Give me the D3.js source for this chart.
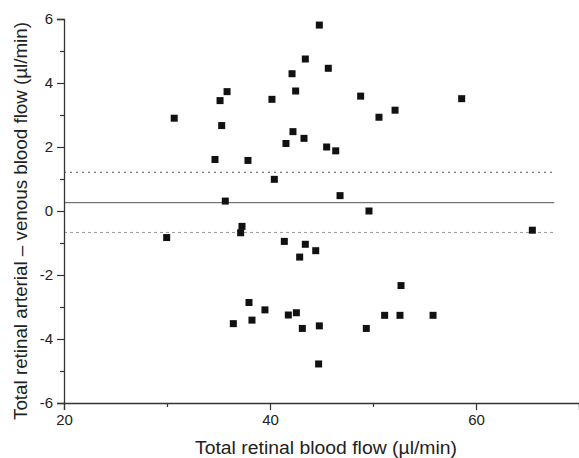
<!DOCTYPE html>
<html><head><meta charset="utf-8">
<script src="https://cdn.jsdelivr.net/npm/d3@7"></script>
<style>body{margin:0;background:#fff}svg{display:block}text{font-family:"Liberation Sans",Arial,sans-serif;fill:#222}</style>
</head><body><svg id="c" width="579" height="458"></svg>
<script>
const flowX = [30.7,29.97,44.79,43.43,45.66,42.14,35.83,35.15,42.49,40.19,48.80,50.58,35.31,42.23,43.30,41.55,45.50,46.38,34.66,37.86,40.42,46.80,35.66,49.61,37.28,58.61,52.14,65.47,37.15,41.39,43.43,44.44,42.88,37.96,39.51,36.44,38.25,41.78,42.56,43.14,44.79,49.35,44.72,52.72,51.13,52.62,55.83];
const diffY = [2.9,-0.83,5.81,4.75,4.46,4.29,3.73,3.45,3.75,3.49,3.59,2.93,2.67,2.48,2.27,2.11,2.0,1.88,1.61,1.58,0.99,0.48,0.31,0.0,-0.48,3.51,3.15,-0.6,-0.68,-0.95,-1.04,-1.24,-1.44,-2.86,-3.09,-3.52,-3.41,-3.25,-3.18,-3.67,-3.59,-3.67,-4.78,-2.33,-3.26,-3.26,-3.26];
const meanDiff = 0.26, upperLimit = 1.21, lowerLimit = -0.67, lineEnd = 67.6;
const xTicks = [20,40,60], yTicks = [-6,-4,-2,0,2,4,6];
const xTitle = "Total retinal blood flow (µl/min)";
const yTitle = "Total retinal arterial – venous blood flow (µl/min)";

const svg = d3.select("#c");
const x = d3.scaleLinear().domain([20,70]).range([64,579]);
const y = d3.scaleLinear().domain([-6,6]).range([403,19]);

// reference lines
const lines = [
  {v:meanDiff, stroke:"#555", dash:null},
  {v:upperLimit, stroke:"#555", dash:"2,4"},
  {v:lowerLimit, stroke:"#999", dash:"3,3"}
];
svg.selectAll("line.ref").data(lines).enter().append("line")
  .attr("x1",x(20)).attr("x2",x(lineEnd))
  .attr("y1",d=>y(d.v)).attr("y2",d=>y(d.v))
  .attr("stroke",d=>d.stroke).attr("stroke-width",1)
  .attr("stroke-dasharray",d=>d.dash);

const fmt = d => String(d);
// axes
const gx = svg.append("g").attr("transform",`translate(0,${y(-6)})`)
  .call(d3.axisBottom(x).tickValues(xTicks).tickSize(7).tickPadding(4).tickFormat(fmt));
const gxm = svg.append("g").attr("transform",`translate(0,${y(-6)})`)
  .call(d3.axisBottom(x).tickValues([30,50,70]).tickSize(4).tickFormat(""));
const gy = svg.append("g").attr("transform",`translate(${x(20)},0)`)
  .call(d3.axisLeft(y).tickValues(yTicks).tickSize(7).tickPadding(4).tickFormat(fmt));
const gym = svg.append("g").attr("transform",`translate(${x(20)},0)`)
  .call(d3.axisLeft(y).tickValues([-5,-3,-1,1,3,5]).tickSize(4).tickFormat(""));
[gx,gxm,gy,gym].forEach(g=>{
  g.select(".domain").attr("stroke","#333").attr("stroke-width",1.3);
  g.selectAll(".tick line").attr("stroke","#333").attr("stroke-width",1.2);
  g.selectAll(".tick text").attr("font-size",15).attr("fill","#222")
   .attr("font-family","'Liberation Sans',Arial,sans-serif");
});
gym.select(".domain").remove(); gxm.select(".domain").remove();

// points
const pts = flowX.map((v,i)=>({x:v,y:diffY[i]}));
const s = 7;
svg.selectAll("rect.pt").data(pts).enter().append("rect")
  .attr("x",d=>x(d.x)-s/2).attr("y",d=>y(d.y)-s/2)
  .attr("width",s).attr("height",s).attr("fill","#111");

// titles
svg.append("text").attr("x",195).attr("y",454)
  .attr("font-size",17.5).attr("textLength",262).attr("lengthAdjust","spacingAndGlyphs").text(xTitle);
svg.append("text").attr("transform",`translate(27,420) rotate(-90)`)
  .attr("font-size",17.5).attr("textLength",398).attr("lengthAdjust","spacingAndGlyphs").text(yTitle);
</script></body></html>
